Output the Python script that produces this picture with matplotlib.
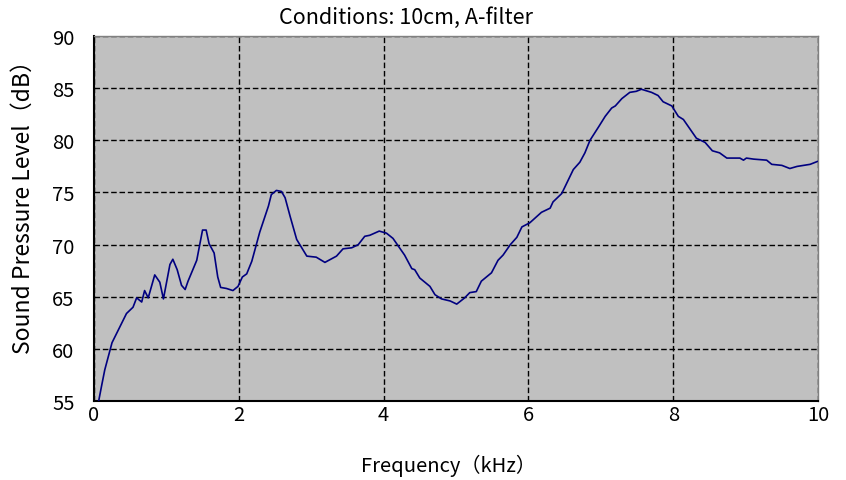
import matplotlib
matplotlib.use("Agg")
import matplotlib.pyplot as plt

plt.rcParams['font.family'] = ['Noto Sans CJK JP', 'DejaVu Sans']

# frequency (kHz) and level (dB)
freq = [0.06, 0.11, 0.15, 0.25, 0.45, 0.54, 0.59, 0.66, 0.70, 0.75,
        0.84, 0.91, 0.96, 1.05, 1.09, 1.15, 1.21, 1.26, 1.30, 1.42,
        1.50, 1.55, 1.59, 1.66, 1.71, 1.75, 1.83, 1.92, 1.99, 2.05,
        2.11, 2.18, 2.29, 2.41, 2.45, 2.52, 2.59, 2.64, 2.71, 2.80,
        2.94, 3.07, 3.19, 3.35, 3.44, 3.56, 3.65, 3.74, 3.81, 3.94,
        4.04, 4.13, 4.20, 4.29, 4.39, 4.43, 4.50, 4.57, 4.64, 4.71,
        4.80, 4.92, 5.01, 5.12, 5.19, 5.28, 5.35, 5.49, 5.58, 5.65,
        5.75, 5.84, 5.91, 6.02, 6.18, 6.30, 6.34, 6.46, 6.62, 6.71,
        6.78, 6.85, 6.97, 7.06, 7.15, 7.20, 7.29, 7.40, 7.49, 7.56,
        7.70, 7.79, 7.86, 7.98, 8.07, 8.14, 8.32, 8.44, 8.54, 8.64,
        8.74, 8.92, 8.97, 9.01, 9.11, 9.29, 9.36, 9.50, 9.61, 9.71,
        9.80, 9.89, 10.0]
level = [54.8, 56.6, 58.0, 60.6, 63.4, 64.0, 64.9, 64.5, 65.6, 64.9,
         67.1, 66.4, 64.8, 68.1, 68.6, 67.6, 66.1, 65.7, 66.5, 68.5,
         71.4, 71.4, 70.1, 69.2, 66.9, 65.9, 65.8, 65.6, 66.0, 66.9,
         67.2, 68.4, 71.2, 73.7, 74.8, 75.2, 75.1, 74.5, 72.7, 70.5,
         68.9, 68.8, 68.3, 68.9, 69.6, 69.7, 70.0, 70.8, 70.9, 71.3,
         71.1, 70.6, 69.9, 69.0, 67.7, 67.6, 66.8, 66.4, 66.0, 65.2,
         64.8, 64.6, 64.3, 64.9, 65.4, 65.5, 66.5, 67.3, 68.5, 69.0,
         70.0, 70.7, 71.7, 72.1, 73.1, 73.5, 74.1, 74.9, 77.2, 77.9,
         78.8, 80.0, 81.3, 82.3, 83.1, 83.3, 84.0, 84.6, 84.7, 84.9,
         84.6, 84.3, 83.7, 83.3, 82.3, 82.0, 80.2, 79.8, 79.0, 78.8,
         78.3, 78.3, 78.1, 78.3, 78.2, 78.1, 77.7, 77.6, 77.3, 77.5,
         77.6, 77.7, 78.0]

x_ticks = [0, 2, 4, 6, 8, 10]
y_ticks = [55, 60, 65, 70, 75, 80, 85, 90]

fig = plt.figure(figsize=(8.46, 4.81), dpi=100)
ax = fig.add_axes([0.111, 0.164, 0.856, 0.759])
ax.set_facecolor('#C0C0C0')

ax.plot(freq, level, color='#000080', linewidth=1.2, zorder=3)

ax.set_xlim(0, 10)
ax.set_ylim(55, 90)
ax.set_xticks(x_ticks)
ax.set_yticks(y_ticks)
ax.grid(True, color='black', linestyle=(0, (4, 2)), linewidth=1.0)
ax.tick_params(axis='both', labelsize=14.5, length=0)
ax.tick_params(axis='x', pad=2)
ax.tick_params(axis='y', pad=14)

for side in ['top', 'right']:
    ax.spines[side].set_color('#808080')
    ax.spines[side].set_linewidth(1)
for side in ['left', 'bottom']:
    ax.spines[side].set_color('black')
    ax.spines[side].set_linewidth(1.5)

fig.text(0.48, 0.962, 'Conditions: 10cm, A-filter', fontsize=15.5,
         ha='center', va='center')
ax.set_xlabel('Frequency（kHz）', fontsize=14.5)
ax.set_ylabel('Sound Pressure Level（dB）', fontsize=16.5)
ax.xaxis.set_label_coords(0.49, -0.145)
ax.yaxis.set_label_coords(-0.082, 0.55)

fig.savefig('out.png', dpi=100)
